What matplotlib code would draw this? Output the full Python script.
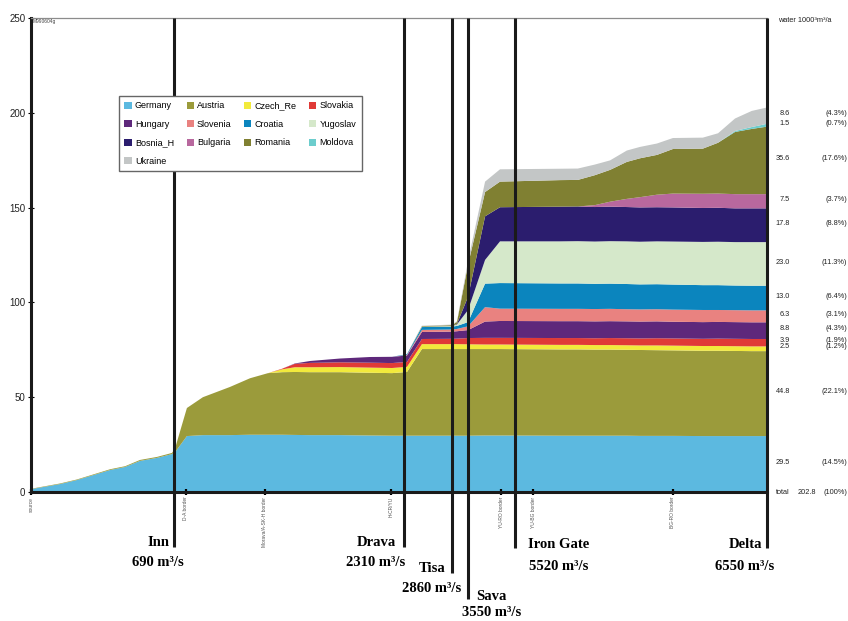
import matplotlib
matplotlib.use("Agg")
import matplotlib.pyplot as plt
import matplotlib.transforms as mtransforms
from matplotlib.patches import Patch
import numpy as np

plt.rcParams['font.family'] = ['Liberation Sans', 'DejaVu Sans']

# distance from source (km) of the stations along the river
km = [0, 113, 178, 307, 365, 423, 489, 547, 559, 605,
      667, 772, 850, 920, 974, 1024, 1083, 1199, 1315, 1401,
      1459, 1517, 1633, 1653, 1696, 1762, 1820,
      2053, 2122, 2188, 2247, 2312, 2363, 2429, 2491, 2607, 2666, 2732, 2797, 2856]

countries = ['Germany', 'Austria', 'Czech_Re', 'Slovakia', 'Hungary', 'Slovenia', 'Croatia',
             'Yugoslav', 'Bosnia_H', 'Bulgaria', 'Romania', 'Moldova', 'Ukraine']

colors = ['#5cb9e0', '#9b9b3b', '#f2ea3c', '#e03a37', '#5e287b', '#e98280', '#0b85be',
          '#d5e8ca', '#2b1d6e', '#b8689e', '#808032', '#6ccdcd', '#c3c6c6']

# water contributed by each country (1000^3 m3/a)
germany = [1.5, 4.2, 6.3, 11.6, 13.2, 16.4, 18.0, 20.0, 21.0, 29.5,
           30.0, 30.0, 30.2, 30.2, 30.2, 30.1, 30.0, 30.0, 29.8, 29.7,
           29.7, 29.7, 29.7, 29.7, 29.7, 29.8, 29.8,
           29.7, 29.7, 29.7, 29.7, 29.7, 29.6, 29.6, 29.6, 29.5, 29.5, 29.5, 29.5, 29.5]
austria = [0.2, 0.3, 0.3, 0.4, 0.4, 0.5, 0.5, 0.6, 2.0, 14.8,
           20.0, 25.4, 29.8, 32.5, 33.0, 33.2, 33.2, 33.2, 33.1, 33.0,
           33.6, 45.7, 45.7, 45.7, 45.7, 45.6, 45.6,
           45.5, 45.5, 45.4, 45.4, 45.3, 45.3, 45.2, 45.1, 45.0, 45.0, 44.9, 44.8, 44.8]
czech = [0, 0, 0, 0, 0, 0, 0, 0, 0, 0,
         0, 0, 0, 0, 1.5, 2.5, 2.6, 2.7, 2.7, 2.7,
         2.7, 2.6, 2.6, 2.6, 2.5, 2.4, 2.4,
         2.4, 2.4, 2.4, 2.4, 2.4, 2.4, 2.5, 2.5, 2.5, 2.5, 2.5, 2.5, 2.5]
slovakia = [0, 0, 0, 0, 0, 0, 0, 0, 0, 0,
            0, 0, 0, 0, 0.3, 1.8, 2.3, 2.5, 2.6, 2.6,
            2.6, 2.7, 2.8, 2.9, 3.3, 3.5, 3.5,
            3.6, 3.6, 3.6, 3.7, 3.7, 3.7, 3.8, 3.8, 3.8, 3.9, 3.9, 3.9, 3.9]
hungary = [0, 0, 0, 0, 0, 0, 0, 0, 0, 0,
           0, 0, 0, 0, 0, 0.2, 1.0, 2.0, 3.0, 3.3,
           3.4, 3.7, 3.8, 3.9, 4.2, 8.6, 8.9,
           8.9, 8.9, 8.9, 8.9, 8.9, 8.9, 8.9, 8.8, 8.8, 8.8, 8.8, 8.8, 8.8]
slovenia = [0, 0, 0, 0, 0, 0, 0, 0, 0, 0,
            0, 0, 0, 0, 0, 0, 0, 0, 0, 0,
            0.3, 1.1, 1.1, 1.2, 2.0, 7.6, 6.5,
            6.5, 6.5, 6.5, 6.5, 6.4, 6.4, 6.4, 6.4, 6.4, 6.3, 6.3, 6.3, 6.3]
croatia = [0, 0, 0, 0, 0, 0, 0, 0, 0, 0,
           0, 0, 0, 0, 0, 0, 0, 0, 0, 0,
           0.4, 1.5, 1.5, 1.6, 2.2, 12.4, 13.5,
           13.4, 13.4, 13.3, 13.3, 13.3, 13.2, 13.2, 13.2, 13.1, 13.1, 13.0, 13.0, 13.0]
yugoslav = [0, 0, 0, 0, 0, 0, 0, 0, 0, 0,
            0, 0, 0, 0, 0, 0, 0, 0, 0, 0,
            0, 0.2, 0.3, 0.8, 6.4, 12.5, 22.0,
            22.2, 22.3, 22.3, 22.4, 22.5, 22.5, 22.6, 22.7, 22.8, 22.9, 22.9, 23.0, 23.0]
bosnia = [0, 0, 0, 0, 0, 0, 0, 0, 0, 0,
          0, 0, 0, 0, 0, 0, 0, 0, 0, 0,
          0, 0, 0, 0.3, 7.0, 23.0, 18.0,
          18.3, 18.3, 18.2, 18.2, 18.1, 18.1, 18.0, 18.0, 17.9, 17.9, 17.8, 17.8, 17.8]
bulgaria = [0, 0, 0, 0, 0, 0, 0, 0, 0, 0,
            0, 0, 0, 0, 0, 0, 0, 0, 0, 0,
            0, 0, 0, 0, 0, 0, 0,
            0, 0, 1.0, 2.6, 4.3, 5.4, 6.6, 7.3, 7.5, 7.5, 7.5, 7.5, 7.5]
romania = [0, 0, 0, 0, 0, 0, 0, 0, 0, 0,
           0, 0, 0, 0, 0, 0, 0, 0, 0, 0,
           0, 0.3, 0.5, 1.0, 17.0, 12.8, 13.5,
           14.0, 14.0, 15.8, 16.8, 19.5, 20.5, 21.0, 23.5, 23.8, 26.8, 32.8, 34.4, 35.6]
moldova = [0, 0, 0, 0, 0, 0, 0, 0, 0, 0,
           0, 0, 0, 0, 0, 0, 0, 0, 0, 0,
           0, 0, 0, 0, 0, 0, 0,
           0, 0, 0, 0, 0, 0, 0, 0, 0, 0, 0.5, 1.0, 1.5]
ukraine = [0, 0, 0, 0, 0, 0, 0, 0, 0, 0,
           0, 0, 0, 0, 0, 0, 0, 0, 0, 0,
           0, 0.2, 0.3, 0.4, 2.0, 5.5, 6.5,
           6.0, 6.0, 5.6, 5.0, 6.0, 6.0, 6.0, 5.8, 5.8, 5.0, 6.6, 8.5, 8.6]

delta_values = ['29.5', '44.8', '2.5', '3.9', '8.8', '6.3', '13.0', '23.0', '17.8', '7.5', '35.6', '1.5', '8.6']
delta_pcts = ['(14.5%)', '(22.1%)', '(1.2%)', '(1.9%)', '(4.3%)', '(3.1%)', '(6.4%)', '(11.3%)',
              '(8.8%)', '(3.7%)', '(17.6%)', '(0.7%)', '(4.3%)']
total_value = '202.8'

# tributaries: name, mean discharge text, km
rivers = ['Inn', 'Drava', 'Tisa', 'Sava', 'Iron Gate', 'Delta']
flows = ['690 m³/s', '2310 m³/s', '2860 m³/s', '3550 m³/s', '5520 m³/s', '6550 m³/s']
river_km = [555, 1447, 1633, 1696, 1878, 2856]

borders = ['source', 'D-A border', 'Morava/A-SK-H border', 'H-CR/YU', 'YU-RO border', 'YU-BG border', 'BG-RO border']
border_km = [0, 601, 908, 1397, 1824, 1948, 2491]

W, H = 848, 621
fig = plt.figure(figsize=(W / 100, H / 100), dpi=100)
ax = fig.add_axes([31 / W, 1 - 492 / H, (767 - 31) / W, (492 - 18) / H])

layers = np.vstack([germany, austria, czech, slovakia, hungary, slovenia, croatia,
                    yugoslav, bosnia, bulgaria, romania, moldova, ukraine])
ax.stackplot(km, layers, colors=colors, linewidth=0)

ax.set_xlim(0, km[-1])
ax.set_ylim(0, 250)

for side in ['left', 'bottom']:
    ax.spines[side].set_linewidth(2.2)
    ax.spines[side].set_color('#1a1a1a')
ax.spines['top'].set_linewidth(0.9)
ax.spines['top'].set_color('#8c8c8c')
ax.spines['right'].set_visible(False)

ax.set_yticks(range(0, 251, 50))
ax.tick_params(axis='y', direction='inout', length=4, width=0.8, labelsize=7, pad=2,
               labelcolor='#222222')
ax.set_xticks(border_km)
ax.set_xticklabels([])
ax.tick_params(axis='x', direction='inout', length=5, width=1.6)

for x, lab in zip(border_km, borders):
    ax.text(x, -2.5, lab, rotation=90, ha='center', va='top', fontsize=3.5,
            color='#555555', clip_on=False)

# river confluence lines
blend = mtransforms.blended_transform_factory(ax.transData, ax.transAxes)
line_bottom = [547, 547, 573, 599, 548, 548]
for x, yb in zip(river_km, line_bottom):
    ax.plot([x, x], [(492 - yb) / 474, 1.0], transform=blend, color='#1a1a1a', lw=2.2,
            solid_capstyle='butt', clip_on=False, zorder=5)

name_pos = [(158, 543), (376, 543), (432, 568), (491, 596), (559, 545), (745, 545)]
flow_pos = [(158, 562), (376, 562), (432, 588), (492, 612), (559, 566), (745, 566)]
for name, flow, (nx, ny), (qx, qy) in zip(rivers, flows, name_pos, flow_pos):
    fig.text(nx / W, 1 - ny / H, name, ha='center', va='center', fontsize=10.5,
             fontweight='bold', family='Liberation Serif')
    fig.text(qx / W, 1 - qy / H, flow, ha='center', va='center', fontsize=10.5,
             fontweight='bold', family='Liberation Serif')

# labels at the delta, centred on each band
ends = layers[:, -1]
centres = np.cumsum(ends) - ends / 2 + 1.0
rblend = mtransforms.blended_transform_factory(fig.transFigure, ax.transData)
for y, v, p in zip(centres, delta_values, delta_pcts):
    ax.text(790 / W, y, v, transform=rblend, ha='right', va='center', fontsize=5.3,
            color='#222222', clip_on=False)
    ax.text(847 / W, y, p, transform=rblend, ha='right', va='center', fontsize=5.3,
            color='#222222', clip_on=False)
ax.text(790 / W, 0, 'total', transform=rblend, ha='right', va='center', fontsize=5.3,
        color='#222222', clip_on=False)
ax.text(816 / W, 0, total_value, transform=rblend, ha='right', va='center', fontsize=5.3,
        color='#222222', clip_on=False)
ax.text(847 / W, 0, '(100%)', transform=rblend, ha='right', va='center', fontsize=5.3,
        color='#222222', clip_on=False)
fig.text(778 / W, 1 - 20 / H, 'water 1000³m³/a', ha='left', va='center', fontsize=5.3,
         color='#222222')
fig.text(33 / W, 1 - 19 / H, 'M990604g', ha='left', va='top', fontsize=3.5, color='#444444')

# legend laid out row by row like the original
handles = [Patch(facecolor=c, edgecolor='none') for c in colors]
order = [r * 4 + c for c in range(4) for r in range(4) if r * 4 + c < len(countries)]
fig.legend([handles[i] for i in order], [countries[i] for i in order],
           loc='upper left', bbox_to_anchor=(119 / W, 1 - 96 / H), ncol=4,
           fontsize=6.5, frameon=True, fancybox=False, edgecolor='#666666', framealpha=1,
           handlelength=0.8, handleheight=0.8, handletextpad=0.35, columnspacing=1.4,
           labelspacing=1.05, borderpad=0.6, borderaxespad=0)

fig.savefig('out.png', dpi=100)
